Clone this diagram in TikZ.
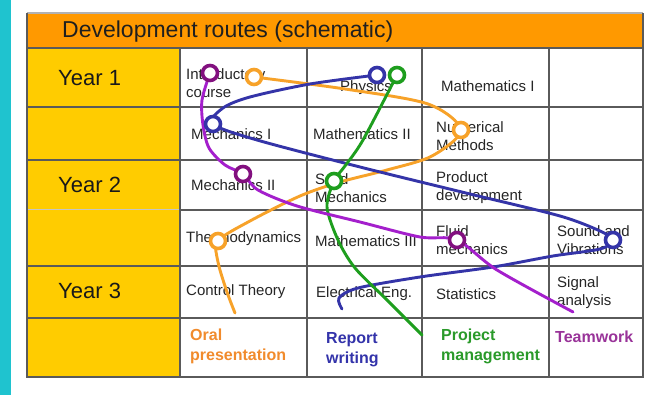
\documentclass[tikz,border=0pt]{standalone}
\usepackage{fontspec}
\setmainfont{Liberation Sans}
\definecolor{cyanbar}{HTML}{1FC3CF}
\definecolor{headorange}{HTML}{FF9900}
\definecolor{yearyellow}{HTML}{FFCC00}
\definecolor{gridgray}{HTML}{5A5A5A}
\definecolor{textgray}{HTML}{262626}
\definecolor{routeorange}{HTML}{F7A229}
\definecolor{routeblue}{HTML}{3434A8}
\definecolor{routegreen}{HTML}{1E9E1E}
\definecolor{routepurple}{HTML}{A41FCC}
\definecolor{ringpurple}{HTML}{82107F}
\definecolor{labelorange}{HTML}{F18B2C}
\definecolor{labelblue}{HTML}{3333AA}
\definecolor{labelgreen}{HTML}{2A9A2A}
\definecolor{labelpurple}{HTML}{993399}
\begin{document}
\begin{tikzpicture}[x=1pt,y=-1pt,
  gridline/.style={draw=gridgray, line width=1.3pt},
  celltext/.style={font=\fontsize{15}{18}\selectfont, text=textgray, align=left, anchor=west, inner sep=0pt},
  yeartext/.style={font=\fontsize{22}{26}\selectfont, text=black!90, anchor=west, inner sep=0pt},
  skill/.style={font=\bfseries\fontsize{16}{20}\selectfont, align=left, anchor=west, inner sep=0pt},
  route/.style={line width=2.9pt, line cap=round, line join=round},
  ring/.style={circle, draw, line width=3.6pt, fill=white, minimum size=15pt, inner sep=0pt},
]
\useasboundingbox (0,0) rectangle (657,395);
\fill[white] (0,0) rectangle (657,395);
\fill[cyanbar] (0,0) rectangle (11,395);
% table backgrounds
\fill[headorange] (27,13) rectangle (643,48);
\fill[yearyellow] (27,48) rectangle (180,377);
% grid
\draw[gridline] (27,48) -- (643,48);
\foreach \yy in {107,160,210,266,318} { \draw[gridline] (180,\yy) -- (643,\yy); }
\foreach \yy in {107,160,266,318} { \draw[gridline] (27,\yy) -- (180,\yy); }
\draw[draw=gridgray!35, line width=1pt] (27,210) -- (180,210);
\foreach \xx in {180,307,422,549} { \draw[gridline] (\xx,48) -- (\xx,377); }
\draw[draw=gray!60, line width=1.2pt] (27,13) -- (643,13);
\draw[gridline] (27,13) -- (27,377) -- (643,377) -- (643,13);
% header and years
\node[anchor=west, inner sep=0pt, font=\fontsize{23}{27}\selectfont, text=black!88] (title) at (62,32) {Development routes (schematic)};
\node[yeartext] (y1) at (58,78) {Year 1};
\node[yeartext] (y2) at (58,185) {Year 2};
\node[yeartext] (y3) at (58,291) {Year 3};
% cells
\node[celltext] (intro) at (186,83) {Introductory\\course};
\node[celltext] (phys) at (340,88) {Physics};
\node[celltext] (math1) at (441,86) {Mathematics I};
\node[celltext] (mech1) at (191,134) {Mechanics I};
\node[celltext] (math2) at (313,134) {Mathematics II};
\node[celltext] (num) at (436,136) {Numerical\\Methods};
\node[celltext] (mech2) at (191,185) {Mechanics II};
\node[celltext] (solid) at (315,188) {Solid\\Mechanics};
\node[celltext] (prod) at (436,188) {Product\\development};
\node[celltext] (thermo) at (186,239) {Thermodynamics};
\node[celltext] (math3) at (315,241) {Mathematics III};
\node[celltext] (fluid) at (436,240) {Fluid\\mechanics};
\node[celltext] (sound) at (557,240) {Sound and\\Vibrations};
\node[celltext] (ctrl) at (186,292) {Control Theory};
\node[celltext] (elec) at (316,294) {Electrical Eng.};
\node[celltext] (stat) at (436,294) {Statistics};
\node[celltext] (sig) at (557,293) {Signal\\analysis};
% skills
\node[skill, text=labelorange] (oral) at (190,346) {Oral\\presentation};
\node[skill, text=labelblue] (report) at (326,350) {Report\\writing};
\node[skill, text=labelgreen] (proj) at (441,346) {Project\\management};
\node[skill, text=labelpurple] (team) at (555,337) {Teamwork};
% route points
\coordinate (O1) at (254,77);
\coordinate (O2) at (461,130);
\coordinate (O3) at (218,241);
\coordinate (B1) at (377,75);
\coordinate (B2) at (213,124);
\coordinate (B3) at (613,240);
\coordinate (G1) at (397,75);
\coordinate (G2) at (334,181);
\coordinate (P1) at (210,73);
\coordinate (P2) at (243,174);
\coordinate (P3) at (457,240);
\coordinate (oa) at (345,89); \coordinate (ob) at (428,104);
\coordinate (oc) at (432,156); \coordinate (od) at (387,170);
\coordinate (oe) at (340,182); \coordinate (of) at (300,196);
\coordinate (og) at (250,221); \coordinate (oh) at (218,262);
\coordinate (oi) at (227,292); \coordinate (oend) at (235,313);
\coordinate (ba) at (310,84); \coordinate (bb) at (250,97);
\coordinate (bc) at (223,108); \coordinate (bd) at (257,140);
\coordinate (be) at (360,167); \coordinate (bf) at (470,194);
\coordinate (bg) at (560,216); \coordinate (bh) at (600,231);
\coordinate (bi) at (600,249); \coordinate (bj) at (553,256);
\coordinate (bk) at (493,267); \coordinate (bl) at (420,277);
\coordinate (bm) at (358,288); \coordinate (bn) at (339,298);
\coordinate (bend) at (342,309);
\coordinate (ga) at (363,140); \coordinate (gb) at (345,166);
\coordinate (gc) at (327,207); \coordinate (gd) at (338,240);
\coordinate (ge) at (355,268); \coordinate (gf) at (387,300);
\coordinate (gend) at (422,335);
\coordinate (pa) at (202,100); \coordinate (pb) at (203,125);
\coordinate (pc) at (209,148); \coordinate (pd) at (225,165);
\coordinate (pe) at (258,190); \coordinate (pf) at (297,206);
\coordinate (pg) at (360,222); \coordinate (ph) at (420,237);
\coordinate (pi) at (497,270); \coordinate (pend) at (573,312);
% routes
\draw[route, routeorange] plot[smooth, tension=0.5] coordinates {(O1) (oa) (ob) (O2) (oc) (od) (oe) (of) (og) (O3) (oh) (oi) (oend)};
\draw[route, routeblue] plot[smooth, tension=0.5] coordinates {(B1) (ba) (bb) (bc) (B2) (bd) (be) (bf) (bg) (bh) (B3) (bi) (bj) (bk) (bl) (bm) (bn) (bend)};
\draw[route, routegreen] plot[smooth, tension=0.5] coordinates {(G1) (ga) (gb) (G2) (gc) (gd) (ge) (gf) (gend)};
\draw[route, routepurple] plot[smooth, tension=0.5] coordinates {(P1) (pa) (pb) (pc) (pd) (P2) (pe) (pf) (pg) (ph) (P3) (pi) (pend)};
% rings
\node[ring, draw=routeorange] (ro1) at (O1) {};
\node[ring, draw=routeorange] (ro2) at (O2) {};
\node[ring, draw=routeorange] (ro3) at (O3) {};
\node[ring, draw=routeblue] (rb1) at (B1) {};
\node[ring, draw=routeblue] (rb2) at (B2) {};
\node[ring, draw=routeblue] (rb3) at (B3) {};
\node[ring, draw=routegreen] (rg1) at (G1) {};
\node[ring, draw=routegreen] (rg2) at (G2) {};
\node[ring, draw=ringpurple] (rp1) at (P1) {};
\node[ring, draw=ringpurple] (rp2) at (P2) {};
\node[ring, draw=ringpurple] (rp3) at (P3) {};
\end{tikzpicture}
\end{document}
